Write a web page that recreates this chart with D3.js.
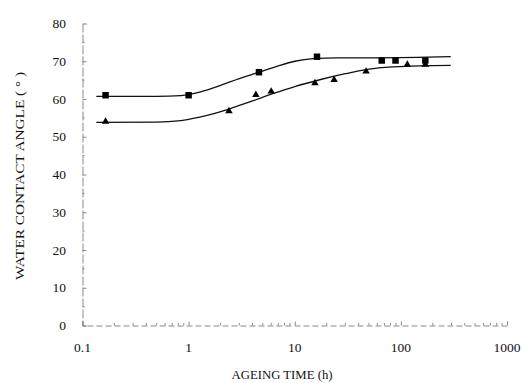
<!DOCTYPE html>
<html><head><meta charset="utf-8">
<script src="https://cdn.jsdelivr.net/npm/d3@7"></script>
<style>body{margin:0;background:#fff}svg{display:block}</style>
</head><body><svg id="c" width="523" height="383"></svg>
<script>
// Data
const sqTime = [0.165, 1.0, 4.6, 16.2, 66, 89, 170];
const sqAngle = [61.0, 61.0, 67.1, 71.2, 70.2, 70.2, 70.2];
const triTime = [0.165, 2.4, 4.3, 6.0, 15.5, 23.5, 47, 115, 170];
const triAngle = [54.0, 56.8, 61.1, 62.0, 64.2, 65.1, 67.3, 69.1, 69.1];
// fitted curves
const sqFitTime = [0.135, 0.5, 0.85, 1.3, 2.0, 3.0, 4.6, 7.0, 10, 15, 25, 60, 295];
const sqFitAngle = [60.7, 60.7, 60.9, 61.9, 63.6, 65.4, 67.1, 68.8, 70.0, 70.7, 70.9, 70.9, 71.2];
const triFitTime = [0.135, 0.5, 0.8, 1.27, 2.44, 4.0, 6.2, 10, 17.2, 30, 50, 85, 150, 295];
const triFitAngle = [53.8, 53.9, 54.2, 55.2, 57.4, 59.5, 61.4, 63.3, 65.1, 66.7, 67.9, 68.5, 68.8, 68.9];
const xTicks = [0.1, 1, 10, 100, 1000];
const xTickLabels = ["0.1", "1", "10", "100", "1000"];
const yTicks = [0, 10, 20, 30, 40, 50, 60, 70, 80];

const svg = d3.select("#c");
const x = d3.scaleLog().domain([0.1, 1000]).range([82.5, 507]);
const y = d3.scaleLinear().domain([0, 80]).range([325.5, 23.5]);
const serif = "'Liberation Serif','DejaVu Serif',serif";
const axisCol = "#8a8a8a";

// y axis
const yAx = svg.append("g").attr("transform", `translate(${x(0.1)},0)`)
  .call(d3.axisRight(y).tickValues(yTicks).tickSize(4).tickFormat(""));
yAx.select(".domain").attr("stroke", axisCol).attr("stroke-dasharray", "9,2");
yAx.selectAll(".tick line").attr("stroke", axisCol);
const yMinor = d3.range(5, 80, 10);
svg.append("g").selectAll("line").data(yMinor).join("line")
  .attr("x1", x(0.1)).attr("x2", x(0.1) + 2)
  .attr("y1", d => y(d)).attr("y2", d => y(d)).attr("stroke", axisCol);
svg.append("g").selectAll("text").data(yTicks).join("text")
  .attr("x", 66).attr("y", d => y(d)).attr("dy", "0.35em")
  .attr("text-anchor", "end").attr("font-family", serif).attr("font-size", 13.5)
  .attr("fill", "#111").text(d => d);

// x axis
const xAx = svg.append("g").attr("transform", `translate(0,${y(0)})`)
  .call(d3.axisTop(x).tickValues(xTicks).tickSize(4).tickFormat(""));
xAx.select(".domain").attr("stroke", axisCol).attr("stroke-dasharray", "6,3");
xAx.selectAll(".tick line").attr("stroke", axisCol);
const xMinor = [];
[0.1, 1, 10, 100].forEach(d => { for (let k = 2; k <= 9; k++) xMinor.push(d * k); });
svg.append("g").selectAll("line").data(xMinor).join("line")
  .attr("x1", d => x(d)).attr("x2", d => x(d))
  .attr("y1", y(0)).attr("y2", y(0) - 2.5).attr("stroke", axisCol);
svg.append("g").selectAll("text").data(xTicks).join("text")
  .attr("x", d => x(d)).attr("y", 352).attr("text-anchor", "middle")
  .attr("font-family", serif).attr("font-size", 13.5).attr("fill", "#111")
  .text((d, i) => xTickLabels[i]);

// titles
svg.append("text").attr("x", 282).attr("y", 379).attr("text-anchor", "middle")
  .attr("font-family", serif).attr("font-size", 12.5).attr("fill", "#111")
  .attr("textLength", 101).attr("lengthAdjust", "spacingAndGlyphs")
  .text("AGEING TIME  (h)");
svg.append("text").attr("transform", "translate(24,176) rotate(-90)")
  .attr("text-anchor", "middle").attr("font-family", serif).attr("font-size", 12.5)
  .attr("fill", "#111").attr("textLength", 208).attr("lengthAdjust", "spacingAndGlyphs")
  .text("WATER CONTACT ANGLE ( ° )");

// curves
const line = d3.line().x(d => x(d[0])).y(d => y(d[1])).curve(d3.curveMonotoneX);
svg.append("path").datum(sqFitTime.map((t, i) => [t, sqFitAngle[i]]))
  .attr("d", line).attr("fill", "none").attr("stroke", "#111").attr("stroke-width", 1.3);
svg.append("path").datum(triFitTime.map((t, i) => [t, triFitAngle[i]]))
  .attr("d", line).attr("fill", "none").attr("stroke", "#111").attr("stroke-width", 1.3);

// markers
svg.append("g").selectAll("path").data(sqTime.map((t, i) => [t, sqAngle[i]])).join("path")
  .attr("transform", d => `translate(${x(d[0])},${y(d[1])})`)
  .attr("d", d3.symbol(d3.symbolSquare, 42)).attr("fill", "#000");
svg.append("g").selectAll("path").data(triTime.map((t, i) => [t, triAngle[i]])).join("path")
  .attr("transform", d => `translate(${x(d[0])},${y(d[1])})`)
  .attr("d", d3.symbol(d3.symbolTriangle, 24)).attr("fill", "#000");
</script></body></html>
